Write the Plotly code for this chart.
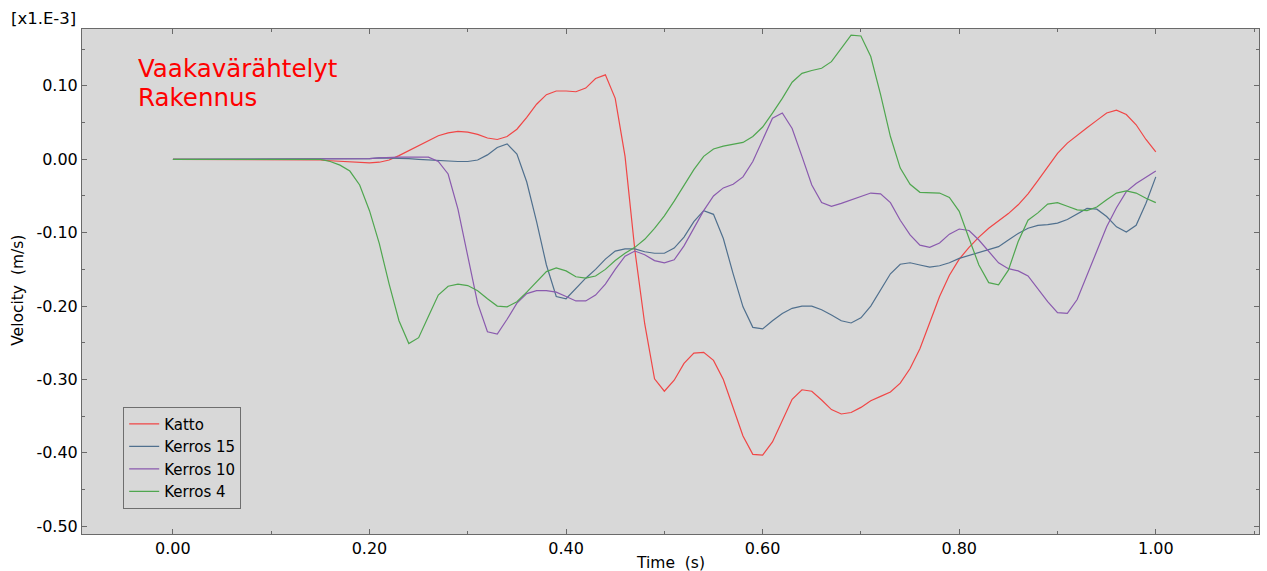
import plotly.graph_objects as go

# ---- data (velocity in units of 1e-3 m/s) ----
time_s = [round(0.01 * i, 2) for i in range(101)]

katto = [0.0] * 13 + [
    0.000, -0.001, -0.001, -0.002, -0.003, -0.004, -0.005, -0.005, -0.004, -0.001,
    0.005, 0.012, 0.019, 0.026, 0.032, 0.036, 0.038, 0.037, 0.034, 0.029,
    0.027, 0.031, 0.041, 0.057, 0.075, 0.088, 0.093, 0.093, 0.092, 0.097,
    0.110, 0.115, 0.083, 0.004, -0.124, -0.224, -0.299, -0.316, -0.301, -0.278,
    -0.264, -0.263, -0.274, -0.300, -0.337, -0.377, -0.402, -0.403, -0.385, -0.356,
    -0.327, -0.314, -0.316, -0.328, -0.341, -0.347, -0.345, -0.338, -0.329, -0.323,
    -0.317, -0.305, -0.285, -0.258, -0.222, -0.187, -0.158, -0.136, -0.120, -0.106,
    -0.094, -0.084, -0.074, -0.062, -0.047, -0.029, -0.010, 0.008, 0.022, 0.033,
    0.043, 0.053, 0.063, 0.067, 0.061, 0.047, 0.027, 0.010]

kerros15 = [0.0] * 20 + [
    0.001, 0.002, 0.002, 0.002, 0.001, 0.000, -0.001, -0.002, -0.003, -0.003,
    -0.003, -0.001, 0.006, 0.016, 0.021, 0.007, -0.031, -0.085, -0.144, -0.187,
    -0.190, -0.176, -0.162, -0.150, -0.136, -0.125, -0.122, -0.122, -0.126, -0.128,
    -0.128, -0.121, -0.106, -0.085, -0.070, -0.075, -0.108, -0.156, -0.201, -0.229,
    -0.231, -0.220, -0.210, -0.203, -0.200, -0.200, -0.205, -0.212, -0.220, -0.223,
    -0.216, -0.200, -0.178, -0.156, -0.143, -0.141, -0.144, -0.147, -0.145, -0.141,
    -0.135, -0.131, -0.128, -0.124, -0.119, -0.110, -0.101, -0.094, -0.090, -0.089,
    -0.087, -0.082, -0.074, -0.067, -0.068, -0.078, -0.092, -0.099, -0.090, -0.060,
    -0.024]

kerros10 = [0.0] * 20 + [
    0.001, 0.002, 0.003, 0.003, 0.003, 0.003, 0.003, -0.003, -0.020, -0.068,
    -0.130, -0.196, -0.235, -0.238, -0.218, -0.196, -0.183, -0.179, -0.179, -0.181,
    -0.187, -0.193, -0.193, -0.185, -0.170, -0.150, -0.132, -0.125, -0.130, -0.138,
    -0.141, -0.137, -0.118, -0.093, -0.070, -0.050, -0.039, -0.034, -0.024, -0.003,
    0.026, 0.056, 0.063, 0.042, 0.004, -0.035, -0.059, -0.064, -0.060, -0.055,
    -0.050, -0.046, -0.047, -0.059, -0.083, -0.103, -0.117, -0.120, -0.114, -0.102,
    -0.095, -0.097, -0.110, -0.126, -0.141, -0.149, -0.152, -0.159, -0.176, -0.194,
    -0.209, -0.210, -0.191, -0.158, -0.125, -0.092, -0.066, -0.044, -0.033, -0.024,
    -0.016]

kerros4 = [0.0] * 13 + [
    0.001, 0.001, 0.000, -0.003, -0.008, -0.016, -0.035, -0.070, -0.115, -0.170,
    -0.220, -0.251, -0.243, -0.214, -0.185, -0.173, -0.170, -0.172, -0.179, -0.190,
    -0.200, -0.201, -0.194, -0.181, -0.167, -0.153, -0.148, -0.152, -0.160, -0.162,
    -0.159, -0.150, -0.138, -0.128, -0.120, -0.109, -0.094, -0.077, -0.057, -0.036,
    -0.014, 0.004, 0.014, 0.018, 0.020, 0.023, 0.031, 0.044, 0.063, 0.083,
    0.105, 0.117, 0.121, 0.124, 0.133, 0.151, 0.169, 0.168, 0.140, 0.088,
    0.031, -0.012, -0.034, -0.045, -0.046, -0.046, -0.052, -0.071, -0.108, -0.144,
    -0.168, -0.171, -0.151, -0.112, -0.083, -0.073, -0.061, -0.059, -0.064, -0.069,
    -0.070, -0.065, -0.055, -0.046, -0.043, -0.046, -0.053, -0.059]

series_names = ["Katto", "Kerros 15", "Kerros 10", "Kerros 4"]
series_values = [katto, kerros15, kerros10, kerros4]
series_colors = ["#f04646", "#50708e", "#8a5aae", "#4fa64f"]

x_tick_vals = [0.0, 0.2, 0.4, 0.6, 0.8, 1.0]
x_tick_text = ["0.00", "0.20", "0.40", "0.60", "0.80", "1.00"]
y_tick_vals = [0.1, 0.0, -0.1, -0.2, -0.3, -0.4, -0.5]
y_tick_text = ["0.10", "0.00", "-0.10", "-0.20", "-0.30", "-0.40", "-0.50"]

FONT = "DejaVu Sans"

fig = go.Figure()
for name, vals, col in zip(series_names, series_values, series_colors):
    fig.add_trace(go.Scatter(x=time_s, y=vals, mode="lines", name=name,
                             line=dict(color=col, width=1.2)))

axis_common = dict(
    showgrid=False, zeroline=False, showline=True, linecolor="#6a6a6a", linewidth=1,
    mirror="ticks", ticks="inside", ticklen=5, tickcolor="#6a6a6a", tickwidth=1,
    tickfont=dict(family=FONT, size=16, color="black"),
)

fig.update_layout(
    width=1267, height=571,
    margin=dict(l=82, r=8, t=29, b=37),
    paper_bgcolor="white",
    plot_bgcolor="#d8d8d8",
    font=dict(family=FONT, size=14, color="black"),
    xaxis=dict(range=[-0.0925, 1.105], tickmode="array", tickvals=x_tick_vals,
               ticktext=x_tick_text,
               minor=dict(dtick=0.1, tick0=0, ticks="inside", ticklen=3,
                          tickcolor="#6a6a6a"),
               **axis_common),
    yaxis=dict(range=[-0.5105, 0.1775], tickmode="array", tickvals=y_tick_vals,
               ticktext=y_tick_text,
               minor=dict(dtick=0.05, tick0=0, ticks="inside", ticklen=3,
                          tickcolor="#6a6a6a"),
               **axis_common),
    legend=dict(x=0.035, y=0.2524, xanchor="left", yanchor="top",
                bgcolor="rgba(0,0,0,0)", bordercolor="#6e6e6e", borderwidth=1,
                font=dict(family=FONT, size=15, color="black"), itemwidth=30,
                tracegroupgap=0),
    showlegend=True,
)

annotations = [
    dict(text="[x1.E-3]", xref="paper", yref="paper", x=-0.003, y=1.021,
         xanchor="right", yanchor="middle", showarrow=False,
         font=dict(family=FONT, size=16.5, color="black")),
    dict(text="Time\u00a0 (s)", xref="paper", yref="paper", x=0.5, y=-0.057,
         xanchor="center", yanchor="middle", showarrow=False,
         font=dict(family=FONT, size=15.5, color="black")),
    dict(text="Velocity\u00a0 (m/s)", xref="paper", yref="paper", x=-0.054, y=0.4825,
         xanchor="center", yanchor="middle", showarrow=False, textangle=-90,
         font=dict(family=FONT, size=15.5, color="black")),
    dict(text="Vaakavärähtelyt", xref="paper", yref="paper", x=0.0455, y=0.9225,
         xanchor="left", yanchor="middle", showarrow=False,
         font=dict(family=FONT, size=24.5, color="#ff0000")),
    dict(text="Rakennus", xref="paper", yref="paper", x=0.0455, y=0.8635,
         xanchor="left", yanchor="middle", showarrow=False,
         font=dict(family=FONT, size=24.5, color="#ff0000")),
]
fig.update_layout(annotations=annotations)

fig.write_html("out.html", config={"displayModeBar": False},
               post_script="document.body.style.margin='0px';")
